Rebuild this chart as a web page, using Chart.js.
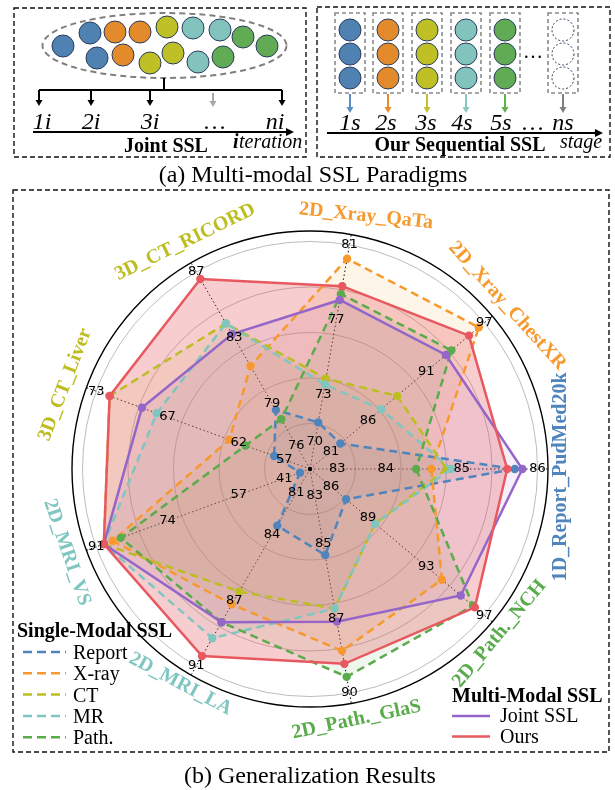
<!DOCTYPE html>
<html><head><meta charset="utf-8">
<script src="https://cdn.jsdelivr.net/npm/chart.js@4.4.1/dist/chart.umd.min.js"></script>
<style>html,body{margin:0;padding:0;background:#fff;overflow:hidden}canvas{display:block}</style>
</head><body>
<canvas id="c" width="615" height="790" style="width:615px;height:790px"></canvas>
<script>
// ---------- DATA ----------
const axisNames = ['1D_Report_PudMed20k','2D_Path._NCH','2D_Path._GlaS','2D_MRI_LA','2D_MRI_VS','3D_CT_Liver','3D_CT_RICORD','2D_Xray_QaTa','2D_Xray_ChestXR'];
const axisMin = [83.0, 85.6, 82.8, 80.8, 40.6, 56.8, 75.6, 69.6, 80.8];
const axisMax = [86.0, 96.7, 89.7, 90.7, 91.0, 72.7, 86.7, 81.0, 96.7];
const axisTicks = [[83,84,85,86],[86,89,93,97],[83,85,87,90],[81,84,87,91],[41,57,74,91],[57,62,67,73],[76,79,83,87],[70,73,77,81],[81,86,91,97]];
const reportSSL = [85.7, 87.9, 85.45, 83.65, 42.97, 59.47, 78.93, 71.97, 83.57];
const xraySSL   = [84.6, 94.0, 88.4, 87.6, 87.1, 62.8, 81.4, 80.3, 96.2];
const ctSSL     = [84.8, 89.75, 87.1, 86.96, 89.2, 71.7, 83.8, 74.2, 88.75];
const mrSSL     = [84.86, 89.75, 87.1, 89.3, 89.2, 68.2, 83.8, 73.9, 87.3];
const pathSSL   = [84.4, 95.98, 89.2, 88.5, 85.2, 61.6, 78.4, 78.5, 93.7];
const jointSSL  = [85.8, 95.2, 87.5, 88.5, 89.2, 69.3, 83.2, 78.2, 93.2];
const oursSSL   = [85.6, 96.1, 88.8, 90.2, 89.2, 71.7, 86.3, 78.9, 95.3];
const singleModalNames = ['Report','X-ray','CT','MR','Path.'];
const multiModalNames = ['Joint SSL','Ours'];
const stageLabels = ['1s','2s','3s','4s','5s','…','ns'];
const iterLabels = ['1i','2i','3i','…','ni'];

// ---------- STYLE ----------
const C = {report:'#4f84bd', xray:'#f7992c', ct:'#bdbd22', mr:'#80c6c0', path:'#5aab4c', joint:'#9466c9', ours:'#e8585f'};
const axisColors = [C.report, C.path, C.path, C.mr, C.mr, C.ct, C.ct, C.xray, C.xray];
const SERIF = '"Liberation Serif", "Times New Roman", serif';
function rgba(hex, a){const n=parseInt(hex.slice(1),16);return `rgba(${n>>16&255},${n>>8&255},${n&255},${a})`;}
const norm = arr => arr.map((v,i) => (v - axisMin[i]) / (axisMax[i] - axisMin[i]));

function ds(label, vals, color, dashed, fa){
  return {label, data: norm(vals), borderColor: color, backgroundColor: rgba(color, fa), fill: true,
    borderWidth: 2.5, borderDash: dashed ? [8,5] : [], pointRadius: 4.2, pointBackgroundColor: color,
    pointBorderColor: color, pointBorderWidth: 0, pointHoverRadius: 4};
}
const datasets = [
  ds('Ours', oursSSL, C.ours, false, 0.3),
  ds('Joint SSL', jointSSL, C.joint, false, 0.1),
  ds('Path.', pathSSL, C.path, true, 0.1),
  ds('MR', mrSSL, C.mr, true, 0.1),
  ds('CT', ctSSL, C.ct, true, 0.1),
  ds('X-ray', xraySSL, C.xray, true, 0.1),
  ds('Report', reportSSL, C.report, true, 0.1)
];

// ---------- helpers ----------
function dashedRect(ctx,x,y,w,h){ctx.save();ctx.strokeStyle='#111';ctx.lineWidth=1.4;ctx.setLineDash([5,3]);ctx.strokeRect(x,y,w,h);ctx.restore();}
function arrowDown(ctx,x,y1,y2,color){ctx.save();ctx.strokeStyle=color;ctx.fillStyle=color;ctx.lineWidth=2;ctx.setLineDash([]);
  ctx.beginPath();ctx.moveTo(x,y1);ctx.lineTo(x,y2-5);ctx.stroke();
  ctx.beginPath();ctx.moveTo(x-3.5,y2-6);ctx.lineTo(x+3.5,y2-6);ctx.lineTo(x,y2);ctx.closePath();ctx.fill();ctx.restore();}
function arrowRight(ctx,x1,x2,y){ctx.save();ctx.strokeStyle='#000';ctx.fillStyle='#000';ctx.lineWidth=2;
  ctx.beginPath();ctx.moveTo(x1,y);ctx.lineTo(x2-6,y);ctx.stroke();
  ctx.beginPath();ctx.moveTo(x2-8,y-4);ctx.lineTo(x2-8,y+4);ctx.lineTo(x2,y);ctx.closePath();ctx.fill();ctx.restore();}
function circle(ctx,x,y,r,fill,dashed){ctx.save();ctx.beginPath();ctx.arc(x,y,r,0,2*Math.PI);
  if(fill){ctx.fillStyle=fill;ctx.fill();}
  ctx.strokeStyle='#2b3d5c';ctx.lineWidth=1;ctx.setLineDash(dashed?[2,2]:[]);ctx.stroke();ctx.restore();}
function txt(ctx,s,x,y,font,color,align,base){ctx.save();ctx.font=font;ctx.fillStyle=color||'#000';ctx.textAlign=align||'left';ctx.textBaseline=base||'alphabetic';ctx.fillText(s,x,y);ctx.restore();}

const dc = {b:'#4f81b3', o:'#e38a2b', y:'#bfbf26', t:'#82c3bd', g:'#62ab55'};

function drawPanelA(ctx){
  dashedRect(ctx,14,8,292,149);
  dashedRect(ctx,317,7,293,150);
  ctx.save();ctx.setLineDash([6,4]);ctx.strokeStyle='#808080';ctx.lineWidth=2;
  ctx.beginPath();ctx.ellipse(164.5,45.5,122,32.5,0,0,2*Math.PI);ctx.stroke();ctx.restore();
  const pts=[[63,46,'b'],[90,33,'b'],[97,58,'b'],[115,32,'o'],[140,32,'o'],[123,55,'o'],[167,27,'y'],[150,63,'y'],[173,53,'y'],
    [193,28,'t'],[220,30,'t'],[198,62,'t'],[243,37,'g'],[267,46,'g'],[223,57,'g']];
  pts.forEach(p=>circle(ctx,p[0],p[1],11,dc[p[2]]));
  ctx.save();ctx.strokeStyle='#000';ctx.lineWidth=2;ctx.beginPath();ctx.moveTo(164,78);ctx.lineTo(164,90);
  ctx.moveTo(39,90);ctx.lineTo(282,90);ctx.stroke();ctx.restore();
  [39,91,150,282].forEach(x=>arrowDown(ctx,x,90,106,'#000'));
  arrowDown(ctx,213,93,107,'#a8a8a8');
  arrowRight(ctx,33,294,132);
  const ix=[42,91,150,215,275];
  iterLabels.forEach((s,i)=>txt(ctx,s,ix[i],129,'italic 24px '+SERIF,'#000','center'));
  txt(ctx,'Joint SSL',166,152,'bold 20px '+SERIF,'#000','center');
  txt(ctx,'i',233,148,'bold italic 20px '+SERIF,'#000','left');
  txt(ctx,'teration',239,148,'italic 20px '+SERIF,'#000','left');
  const cols=[[350,'b'],[388,'o'],[427,'y'],[466,'t'],[505,'g'],[563,null]];
  const arrowCol={b:'#5b8fc4',o:'#ec8a2a',y:'#c4c22a',t:'#86c9c3',g:'#5fb04f'};
  cols.forEach(([x,k])=>{
    ctx.save();ctx.strokeStyle='#8a8a8a';ctx.lineWidth=1.6;ctx.setLineDash([4,3]);ctx.strokeRect(x-15,13,30,80);ctx.restore();
    [30,54,78].forEach(y=>circle(ctx,x,y,11,k?dc[k]:'#fff',!k));
    arrowDown(ctx,x,94,113,k?arrowCol[k]:'#808080');
  });
  txt(ctx,'…',533,58,'20px '+SERIF,'#000','center');
  const sx=[350,386,426,462,501,533,563];
  stageLabels.forEach((s,i)=>txt(ctx,s,sx[i],130,'italic 24px '+SERIF,'#000','center'));
  arrowRight(ctx,327,603,133);
  txt(ctx,'Our Sequential SSL',460,151,'bold 20px '+SERIF,'#000','center');
  txt(ctx,'stage',581,148,'italic 20px '+SERIF,'#000','center');
  txt(ctx,'(a) Multi-modal SSL Paradigms',313,182,'24px '+SERIF,'#000','center');
}

// axis label placement: [center angle (deg, math), radius, rotation (deg)]
const labelPlace = [[-1.8,251,-90],[-41,251,-50],[-79.5,255,-12],[238.9,251,28],[198.9,257,71],[161,259,-69],[118.8,259,-26],[77.5,259,6],[39.6,256,48]];

const pagePlugin = {
  id:'page',
  beforeDraw(chart){
    const ctx=chart.ctx;ctx.save();ctx.fillStyle='#fff';ctx.fillRect(0,0,chart.width,chart.height);ctx.restore();
    drawPanelA(ctx);
    dashedRect(ctx,13,190,596,562);
  },
  afterDatasetsDraw(chart){
    const ctx=chart.ctx, sc=chart.scales.r;
    ctx.save();ctx.fillStyle='#000';ctx.beginPath();ctx.arc(sc.xCenter,sc.yCenter,2.2,0,2*Math.PI);ctx.fill();ctx.restore();
    axisTicks.forEach((ticks,i)=>{
      ticks.forEach((t,j)=>{
        const n = j===0 ? 0.12 : j/3;
        const p = sc.getPointPositionForValue(i,n);
        txt(ctx,String(t),p.x,p.y,'13px "DejaVu Sans"','#000','center','middle');
      });
    });
  },
  afterDraw(chart){
    const ctx=chart.ctx, sc=chart.scales.r;
    axisNames.forEach((name,i)=>{
      const [a,r,rot]=labelPlace[i];
      const x=sc.xCenter+r*Math.cos(a*Math.PI/180), y=sc.yCenter-r*Math.sin(a*Math.PI/180);
      ctx.save();ctx.translate(x,y);ctx.rotate(rot*Math.PI/180);
      ctx.font='bold 20px '+SERIF;ctx.fillStyle=axisColors[i];ctx.textAlign='center';ctx.textBaseline='middle';
      ctx.fillText(name,0,0);ctx.restore();
    });
    txt(ctx,'Single-Modal SSL',17,637,'bold 20px '+SERIF,'#000','left');
    const sCols=[C.report,C.xray,C.ct,C.mr,C.path];
    singleModalNames.forEach((s,i)=>{
      const y=659+i*21.3;
      ctx.save();ctx.strokeStyle=sCols[i];ctx.lineWidth=2.5;ctx.setLineDash([9,5]);
      ctx.beginPath();ctx.moveTo(23,y-7);ctx.lineTo(66,y-7);ctx.stroke();ctx.restore();
      txt(ctx,s,73,y,'20px '+SERIF,'#000','left');
    });
    txt(ctx,'Multi-Modal SSL',452,702,'bold 20px '+SERIF,'#000','left');
    const mCols=[C.joint,C.ours];
    multiModalNames.forEach((s,i)=>{
      const y=722+i*20.5;
      ctx.save();ctx.strokeStyle=mCols[i];ctx.lineWidth=2.5;
      ctx.beginPath();ctx.moveTo(452,y-6);ctx.lineTo(490,y-6);ctx.stroke();ctx.restore();
      txt(ctx,s,500,y,'20px '+SERIF,'#000','left');
    });
    txt(ctx,'(b) Generalization Results',310,783,'24px '+SERIF,'#000','center');
  }
};

new Chart(document.getElementById('c'), {
  type:'radar',
  data:{labels:axisNames, datasets},
  options:{
    responsive:false, animation:false, devicePixelRatio:1,
    layout:{padding:{left:72,right:67,top:231,bottom:83}},
    plugins:{legend:{display:false}, tooltip:{enabled:false}, filler:{drawTime:'beforeDatasetsDraw'}},
    elements:{line:{tension:0}},
    scales:{r:{
      min:0, max:1.046, startAngle:90,
      afterBuildTicks:(s)=>{s.ticks=[0,0.2,0.4,0.6,0.8,1.0,1.046].map(v=>({value:v}));},
      ticks:{display:false},
      pointLabels:{display:false},
      grid:{circular:true, color:(c)=> (c.tick && c.tick.value>1.01) ? '#000' : '#bdbdbd', lineWidth:(c)=> (c.tick && c.tick.value>1.01) ? 1.4 : 1},
      angleLines:{display:true, color:'#000', lineWidth:1, borderDash:[1.5,2.5]}
    }}
  },
  plugins:[pagePlugin]
});
</script>
</body></html>
